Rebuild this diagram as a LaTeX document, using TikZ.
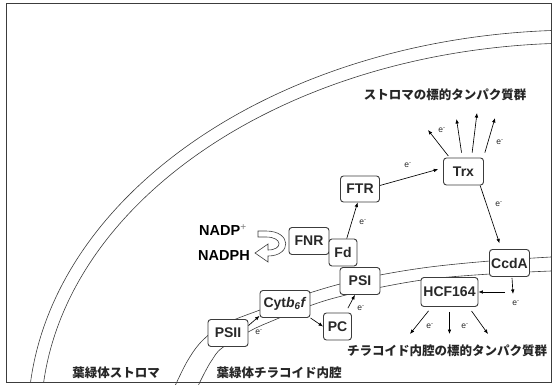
\documentclass[tikz,border=0pt]{standalone}
\usepackage{fontspec}
\setmainfont{Liberation Sans}
\newfontfamily\jpfont{Noto Sans CJK JP}
\usepackage{xcolor}
\usepackage{tikz}
\usetikzlibrary{positioning,calc,arrows.meta}
\definecolor{LineGray}{RGB}{60,60,60}
\definecolor{TextGray}{RGB}{40,40,40}

\begin{document}
\begin{tikzpicture}[x=1pt, y=-1pt,
                % membranes
                membrane/.style={draw=LineGray, line width=0.6pt},
                % protein boxes
                protbox/.style={rectangle, rounded corners=3pt, draw=LineGray, line width=0.9pt, fill=white, text=TextGray, font=\fontsize{14}{16}\selectfont\bfseries, minimum height=27pt, minimum width=40pt, inner sep=1.5pt},
                % electron transfer
                etrans/.style={-{Latex[length=4.5pt,width=3.6pt]}, draw=black, line width=0.65pt},
                % labels
                elabel/.style={font=\fontsize{8.5}{10}\selectfont, text=TextGray, inner sep=0pt},
                jplabel/.style={font=\jpfont\bfseries\fontsize{12.5}{14}\selectfont, text=black!85, inner sep=0pt},
                nadlabel/.style={font=\fontsize{14.5}{16}\selectfont\bfseries, text=black, inner sep=0pt, anchor=west}
            ]
                \useasboundingbox (0,0) rectangle (552,385);

                % --- ENVELOPE ---
                \begin{scope}
                    \clip (6,3) rectangle (551,382);
                    \draw[membrane] (580,420) ellipse [x radius=552, y radius=390];
                    \draw[membrane] (580,420) ellipse [x radius=539, y radius=377];
                \end{scope}

                % --- THYLAKOID MEMBRANE ---
                \draw[membrane] plot[smooth, tension=0.6] coordinates {(175,386) (188,360) (203,340) (225,324) (260,310) (300,296) (340,284) (380,275) (430,267) (490,261) (551,257)};
                \draw[membrane] plot[smooth, tension=0.6] coordinates {(198,386) (205,372) (212,360) (222,348) (250,331) (272,321) (312,305) (342,296) (382,287) (430,279) (490,274) (551,271)};

                % --- PROTEINS ---
                \node[protbox] (trx) at (463.5,171.5) {Trx};
                \node[protbox, minimum width=39pt, minimum height=26pt] (ftr) at (360,189) {FTR};
                \node[protbox] (fnr) at (309,241) {FNR};
                \node[protbox, minimum width=28pt] (fd) at (343,252.5) {Fd};
                \node[protbox] (psi) at (360,281) {PSI};
                \node[protbox, minimum width=50pt] (cyt) at (285,304) {Cyt\textit{b}\textsubscript{\textit{6}}\textit{f}};
                \node[protbox, minimum width=28pt] (pc) at (337.5,326.5) {PC};
                \node[protbox] (psii) at (228,333) {PSII};
                \node[protbox] (ccda) at (509.5,263) {CcdA};
                \node[protbox, minimum width=57pt, minimum height=29pt] (hcf) at (449.5,292) {HCF164};

                % --- NADP+ / NADPH ---
                \node[nadlabel] (nadp) at (199,230) {NADP\textsuperscript{\textcolor{gray}{\fontseries{m}\selectfont +}}};
                \node[nadlabel] (nadph) at (198,256) {NADPH};
                \draw[LineGray, line width=0.6pt, fill=white] (258,231) -- (266,231) .. controls (292,231) and (292,256) .. (268,256) -- (268,262) -- (255,253) -- (268,244) -- (268,250) .. controls (283,250) and (283,237) .. (266,237) -- (258,237) -- cycle;

                % --- FREE ENDS ---
                \coordinate (up1) at (428,130);
                \coordinate (up2) at (456.5,119);
                \coordinate (up3) at (477,113);
                \coordinate (up4) at (495,118);
                \coordinate (bend) at (513,294);
                \coordinate (bendl) at (505,292);
                \coordinate (down1) at (410,334);
                \coordinate (down2) at (449.5,334);
                \coordinate (down3) at (488,334);

                % --- ELECTRON TRANSFER ---
                \draw[etrans] (psii.20) -- (cyt.205);
                \draw[etrans] (cyt.south east) -- (pc.west);
                \draw[etrans, shorten <=5pt] (pc.60) -- (psi.-110);
                \draw[etrans] (fd.75) -- (ftr.-100);
                \draw[etrans, shorten >=5pt] (ftr.10) -- (trx.170);
                \draw[etrans, shorten <=2pt] (trx.135) -- (up1);
                \draw[etrans, shorten <=5pt] (trx.95) -- (up2);
                \draw[etrans, shorten <=5pt] (trx.60) -- (up3);
                \draw[etrans, shorten <=5pt] (trx.35) -- (up4);
                \draw[etrans, shorten >=6pt] (trx.-40) -- (ccda.120);
                \draw[etrans, shorten <=1pt] (ccda.-80) -- (bend);
                \draw[etrans] (bendl) -- (hcf.east);
                \draw[etrans, shorten <=5pt] (hcf.-140) -- (down1);
                \draw[etrans, shorten <=5pt] (hcf.south) -- (down2);
                \draw[etrans, shorten <=5pt] (hcf.-38) -- (down3);

                % --- e- LABELS ---
                \node[elabel] (e1) at (259,332) {e\textsuperscript{-}};
                \node[elabel] (e2) at (361,308) {e\textsuperscript{-}};
                \node[elabel] (e3) at (363,222) {e\textsuperscript{-}};
                \node[elabel] (e4) at (408,165) {e\textsuperscript{-}};
                \node[elabel] (e5) at (442,130) {e\textsuperscript{-}};
                \node[elabel] (e6) at (500,142) {e\textsuperscript{-}};
                \node[elabel] (e7) at (499,204) {e\textsuperscript{-}};
                \node[elabel] (e8) at (516,303) {e\textsuperscript{-}};
                \node[elabel] (e9) at (430,326) {e\textsuperscript{-}};
                \node[elabel] (e10) at (465,326) {e\textsuperscript{-}};

                % --- REGION LABELS ---
                \node[jplabel] (stromatarget) at (445,95) {ストロマの標的タンパク質群};
                \node[jplabel, anchor=west] (lumentarget) at (347,351) {チラコイド内腔の標的タンパク質群};
                \node[jplabel] (stroma) at (116,373) {葉緑体ストロマ};
                \node[jplabel] (lumen) at (279,373) {葉緑体チラコイド内腔};

                % frame
                \draw[LineGray, line width=0.8pt] (6,3) rectangle (551,382);
            \end{tikzpicture}
\end{document}
